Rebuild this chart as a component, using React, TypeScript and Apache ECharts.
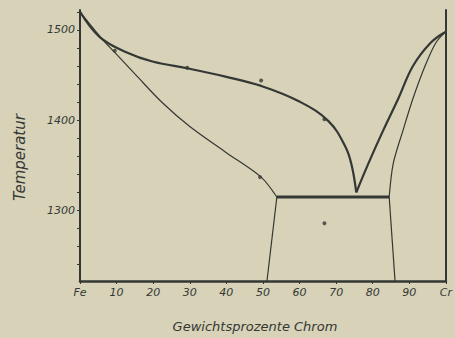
import React, { useEffect, useRef } from "react";
import * as echarts from "echarts";

// Liquidus, iron side (wt.% Cr, °C)
const liquidusFe: number[][] = [
  [0, 1520], [5.4, 1492], [12.8, 1475], [19.8, 1465], [29.9, 1457], [40, 1448],
  [49.5, 1438], [59.8, 1421], [67.9, 1399], [72.6, 1370], [74.3, 1349], [75.5, 1320],
];
// Liquidus, chromium side
const liquidusCr: number[][] = [
  [75.5, 1320], [78.8, 1352], [82.9, 1389], [87, 1424], [91, 1460], [95.9, 1486], [100, 1498],
];
// Solidus, iron side
const solidusFe: number[][] = [
  [0, 1520], [6.25, 1489], [9.5, 1475], [15.5, 1449], [22.6, 1419], [30, 1393], [40, 1364], [49.5, 1337], [53.8, 1315],
];
// Solidus, chromium side
const solidusCr: number[][] = [
  [84.5, 1315], [85.6, 1352], [88.3, 1389], [91, 1424], [94.3, 1460], [97.3, 1486], [100, 1498],
];
// Eutectic horizontal
const eutectic: number[][] = [[53.8, 1315], [84.5, 1315]];
// Lower boundaries
const lowerLeft: number[][] = [[53.8, 1315], [51.1, 1222]];
const lowerRight: number[][] = [[84.5, 1315], [86.1, 1222]];
// Measured points
const measured: number[][] = [
  [9.5, 1477], [29.3, 1458], [49.5, 1444], [66.8, 1401], [49.2, 1337], [66.8, 1286],
];

const yLabels = [1300, 1400, 1500];
const yTicks = [1240, 1260, 1280, 1300, 1320, 1340, 1360, 1380, 1400, 1420, 1440, 1460, 1480, 1500, 1520];

const INK = "#343834";
const BG = "#d7d2b8";

export default function App() {
  const ref = useRef<HTMLDivElement>(null);
  useEffect(() => {
    if (!ref.current) return;
    const chart = echarts.init(ref.current, undefined, { renderer: "svg" });
    const font = { fontFamily: "DejaVu Sans", fontStyle: "italic" as const, color: INK };
    const line = (data: number[][], w: number, smooth: number | boolean) => ({
      type: "line",
      data,
      smooth,
      symbol: "none",
      lineStyle: { color: INK, width: w },
      silent: true,
    });
    chart.setOption({
      animation: false,
      backgroundColor: BG,
      grid: { left: 80, right: 7, top: 10, bottom: 51 },
      xAxis: {
        type: "value",
        min: 0,
        max: 100,
        interval: 10,
        name: "Gewichtsprozente Chrom",
        nameLocation: "middle",
        nameGap: 39,
        nameTextStyle: { ...font, fontSize: 13, padding: [0, 16, 0, 0] },
        axisLine: { show: true, lineStyle: { color: INK, width: 2.5 } },
        axisTick: { show: true, length: 3, lineStyle: { color: INK } },
        axisLabel: {
          ...font,
          fontSize: 11,
          margin: 6,
          showMaxLabel: true,
          showMinLabel: true,
          formatter: (v: number) => (v === 0 ? "Fe" : v === 100 ? "Cr" : String(v)),
        },
        splitLine: { show: false },
      },
      yAxis: [
        {
          type: "value",
          min: 1222,
          max: 1522,
          name: "Temperatur",
          nameLocation: "middle",
          nameRotate: 90,
          nameGap: 53,
          nameTextStyle: { ...font, fontSize: 15, padding: [0, 24, 0, 0] },
          axisLine: { show: true, lineStyle: { color: INK, width: 2 } },
          axisTick: { show: true, length: 3, customValues: yTicks, lineStyle: { color: INK } },
          axisLabel: {
            ...font,
            fontSize: 11,
            margin: 5,
            customValues: yLabels,
            formatter: (v: number) => String(v),
          },
          splitLine: { show: false },
        },
        {
          type: "value",
          position: "right",
          min: 1222,
          max: 1522,
          axisLine: { show: true, lineStyle: { color: INK, width: 2 } },
          axisTick: { show: false },
          axisLabel: { show: false },
          splitLine: { show: false },
        },
      ],
      series: [
        line(liquidusFe, 2.2, 0.4),
        line(liquidusCr, 2.2, 0.4),
        line(solidusFe, 1.2, 0.3),
        line(solidusCr, 1.2, 0.3),
        line(eutectic, 3, false),
        line(lowerLeft, 1.2, false),
        line(lowerRight, 1.2, false),
        {
          type: "scatter",
          data: measured,
          symbol: "circle",
          symbolSize: 4,
          itemStyle: { color: INK },
          silent: true,
        },
      ],
    });
    return () => chart.dispose();
  }, []);
  return (
    <div
      ref={ref}
      style={{ position: "fixed", left: 0, top: 0, width: 455, height: 338 }}
    />
  );
}
